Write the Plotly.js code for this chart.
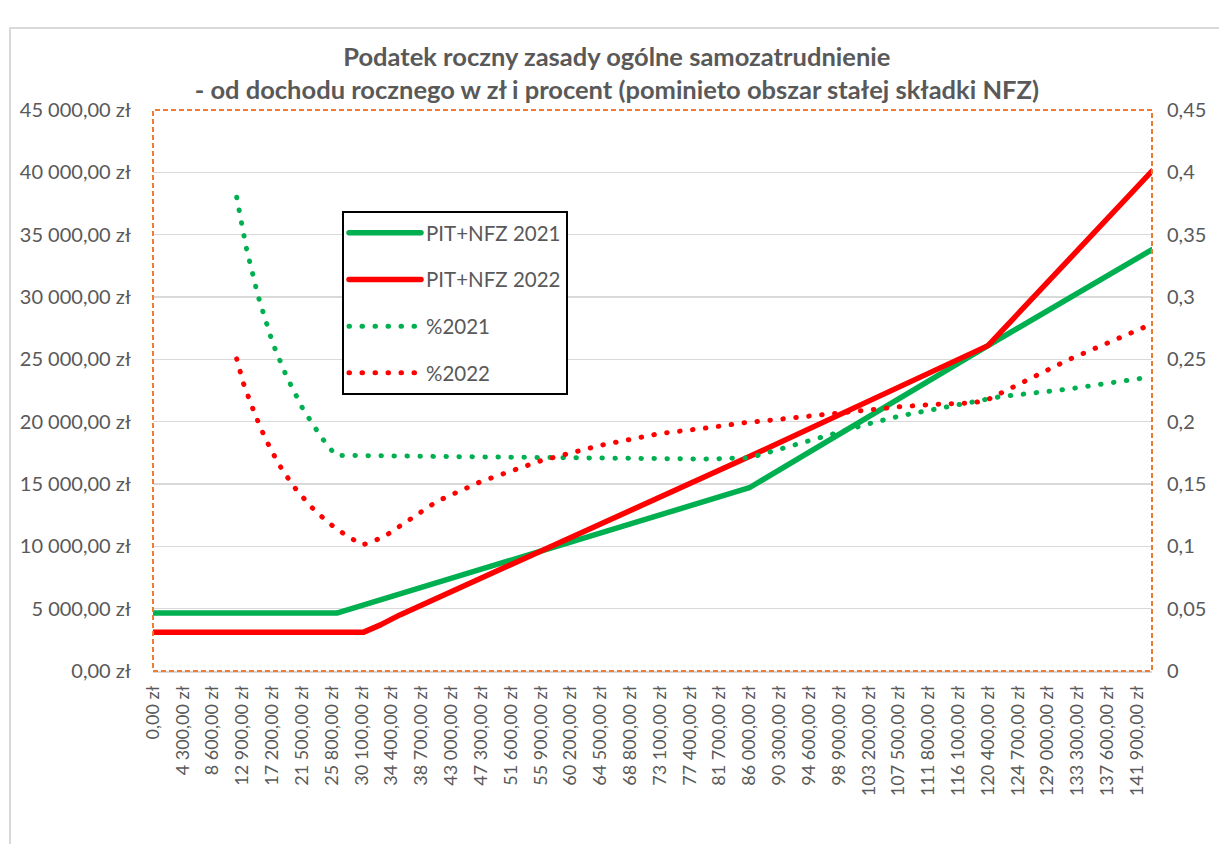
<!DOCTYPE html>
<html>
<head>
<meta charset="utf-8">
<script src="https://cdn.plot.ly/plotly-3.0.1.min.js"></script>
<style>
  html, body { margin: 0; padding: 0; background: #ffffff; }
  #frame { position: absolute; left: 9px; top: 27px; width: 1400px; height: 1000px;
           border-left: 2px solid #d9d9d9; border-top: 2px solid #d9d9d9; }
  #chart { position: absolute; left: 0; top: 0; width: 1219px; height: 844px; }
  path.js-line { stroke-linecap: round; stroke-linejoin: round; }
</style>
</head>
<body>
<div id="frame"></div>
<div id="chart"></div>
<script>
// ---- data ----
const incomeTicks = [0, 4300, 8600, 12900, 17200, 21500, 25800, 30100, 34400, 38700, 43000, 47300,
  51600, 55900, 60200, 64500, 68800, 73100, 77400, 81700, 86000, 90300, 94600, 98900, 103200,
  107500, 111800, 116100, 120400, 124700, 129000, 133300, 137600, 141900];
const incomeTickLabels = ["0,00 zł", "4 300,00 zł", "8 600,00 zł", "12 900,00 zł", "17 200,00 zł",
  "21 500,00 zł", "25 800,00 zł", "30 100,00 zł", "34 400,00 zł", "38 700,00 zł", "43 000,00 zł",
  "47 300,00 zł", "51 600,00 zł", "55 900,00 zł", "60 200,00 zł", "64 500,00 zł", "68 800,00 zł",
  "73 100,00 zł", "77 400,00 zł", "81 700,00 zł", "86 000,00 zł", "90 300,00 zł", "94 600,00 zł",
  "98 900,00 zł", "103 200,00 zł", "107 500,00 zł", "111 800,00 zł", "116 100,00 zł",
  "120 400,00 zł", "124 700,00 zł", "129 000,00 zł", "133 300,00 zł", "137 600,00 zł", "141 900,00 zł"];
const taxTicks = [0, 5000, 10000, 15000, 20000, 25000, 30000, 35000, 40000, 45000];
const taxTickLabels = ["0,00 zł", "5 000,00 zł", "10 000,00 zł", "15 000,00 zł", "20 000,00 zł",
  "25 000,00 zł", "30 000,00 zł", "35 000,00 zł", "40 000,00 zł", "45 000,00 zł"];
const pctTicks = [0, 0.05, 0.1, 0.15, 0.2, 0.25, 0.3, 0.35, 0.4, 0.45];
const pctTickLabels = ["0", "0,05", "0,1", "0,15", "0,2", "0,25", "0,3", "0,35", "0,4", "0,45"];
const incomeMax = 144050;

const income2021 = [0, 26500, 86000, 120400, 144050];
const pitNfz2021 = [4650, 4650, 14700, 26100, 33800];

const income2022 = [0, 30300, 32800, 35600, 86000, 120400, 144050];
const pitNfz2022 = [3100, 3100, 3700, 4500, 17200, 26100, 40100];

const incomePct2021 = [12070, 13410, 15140, 17260, 19280, 21630, 24330, 26340, 43000, 64500, 79300,
  86000, 93300, 98000, 103000, 107700, 112500, 117400, 122100, 131800, 144050];
const pct2021 = [0.380, 0.3405, 0.301, 0.263, 0.236, 0.210, 0.187, 0.173, 0.172, 0.171, 0.170,
  0.171, 0.183, 0.190, 0.198, 0.2046, 0.210, 0.215, 0.220, 0.226, 0.236];

const incomePct2022 = [12070, 13020, 14230, 15530, 17010, 18700, 20620, 22780, 25280, 27790, 30240,
  33210, 35860, 38250, 40910, 47300, 55900, 64500, 73100, 79900, 85100, 90400, 97200, 102400,
  107700, 113000, 118200, 120300, 124000, 132000, 144050];
const pct2022 = [0.2504, 0.231, 0.2127, 0.1948, 0.1774, 0.1607, 0.1458, 0.1318, 0.119, 0.109, 0.1011,
  0.1073, 0.1172, 0.1266, 0.136, 0.152, 0.1686, 0.181, 0.1905, 0.195, 0.199, 0.202, 0.206, 0.209,
  0.212, 0.214, 0.215, 0.2175, 0.228, 0.2497, 0.2784];

// ---- styles ----
const GREEN = "#00B050", RED = "#FF0000", GREY_TXT = "#595959", GRID = "#d9d9d9";
const FONT = "Lato, 'Open Sans', sans-serif";
const DOTS = "0.5px,12.5px";

const traces = [
  { x: income2021, y: pitNfz2021, name: "PIT+NFZ 2021", mode: "lines", legendgroup: "a",
    line: { color: GREEN, width: 5.5 }, yaxis: "y" },
  { x: income2022, y: pitNfz2022, name: "PIT+NFZ 2022", mode: "lines", legendgroup: "b",
    line: { color: RED, width: 5.5 }, yaxis: "y" },
  { x: incomePct2021, y: pct2021, name: "%2021", mode: "lines", legendgroup: "c",
    line: { color: GREEN, width: 5, dash: DOTS }, yaxis: "y2" },
  { x: incomePct2022, y: pct2022, name: "%2022", mode: "lines", legendgroup: "d",
    line: { color: RED, width: 5, dash: DOTS }, yaxis: "y2" }
];

const W = 1219, H = 844, L = 153, R = 1152, T = 110, B = 671;

const layout = {
  width: W, height: H,
  margin: { l: L, r: W - R, t: T, b: H - B, pad: 0 },
  paper_bgcolor: "rgba(0,0,0,0)",
  plot_bgcolor: "rgba(0,0,0,0)",
  font: { family: FONT, color: GREY_TXT, size: 19 },
  title: {
    text: "<b>Podatek roczny zasady ogólne samozatrudnienie<br>- od dochodu rocznego w zł i procent (pominieto obszar stałej składki NFZ)</b>",
    font: { family: FONT, size: 25.5, color: GREY_TXT },
    x: 0.506, xref: "container", xanchor: "center",
    y: 1 - 66 / 844, yref: "container", yanchor: "middle"
  },
  showlegend: true,
  legend: {
    x: (342 - L) / (R - L), y: (B - 211) / (B - T), xanchor: "left", yanchor: "top",
    bgcolor: "#ffffff", bordercolor: "#000000", borderwidth: 2,
    font: { family: FONT, size: 20.5, color: GREY_TXT },
    traceorder: "grouped", tracegroupgap: 17, itemwidth: 72
  },
  xaxis: {
    type: "linear", range: [0, incomeMax], tickmode: "array",
    tickvals: incomeTicks, ticktext: incomeTickLabels, tickangle: -90,
    showgrid: false, zeroline: false, showline: true, linecolor: GRID, linewidth: 1.5,
    ticks: "", ticklabelstandoff: 6,
    tickfont: { family: FONT, size: 18, color: GREY_TXT }, fixedrange: true
  },
  yaxis: {
    range: [0, 45000], tickmode: "array", tickvals: taxTicks, ticktext: taxTickLabels,
    showgrid: true, gridcolor: GRID, gridwidth: 1.5, zeroline: false, showline: false,
    ticks: "", ticklabelstandoff: 21,
    tickfont: { family: FONT, size: 20, color: GREY_TXT }
  },
  yaxis2: {
    range: [0, 0.45], overlaying: "y", side: "right", tickmode: "array",
    tickvals: pctTicks, ticktext: pctTickLabels, showgrid: false, zeroline: false,
    showline: false, ticks: "", ticklabelstandoff: 14,
    tickfont: { family: FONT, size: 20, color: GREY_TXT }
  },
  shapes: [
    { type: "rect", xref: "paper", yref: "paper", x0: 0, x1: 1, y0: 0, y1: 1,
      line: { color: "#ED7D31", width: 2, dash: "5px,3px" }, fillcolor: "rgba(0,0,0,0)", layer: "above" }
  ]
};

Plotly.newPlot("chart", traces, layout, { displayModeBar: false, staticPlot: true });
</script>
</body>
</html>
